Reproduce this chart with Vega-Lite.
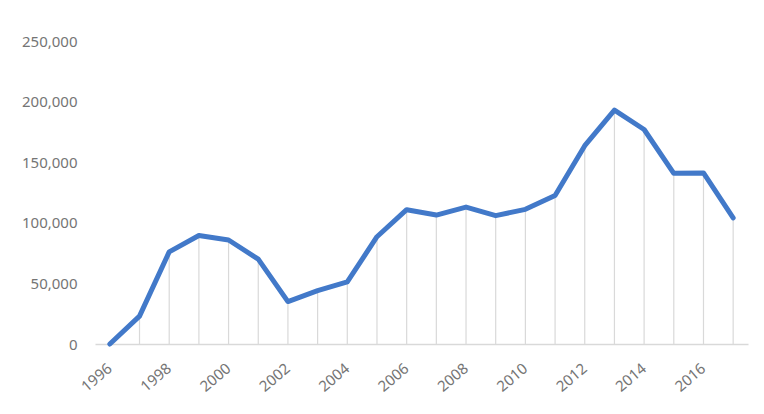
{
  "$schema": "https://vega.github.io/schema/vega-lite/v6.json",
  "autosize": "none",
  "padding": {"left": 95, "top": 41, "right": 16, "bottom": 70},
  "width": 653,
  "height": 303,
  "background": "white",
  "config": {"view": {"stroke": null}, "font": "Noto Sans"},
  "data": {"values": [
    {"year": 1996, "value": 0},
    {"year": 1997, "value": 23000},
    {"year": 1998, "value": 76000},
    {"year": 1999, "value": 89500},
    {"year": 2000, "value": 85800},
    {"year": 2001, "value": 70000},
    {"year": 2002, "value": 35000},
    {"year": 2003, "value": 44000},
    {"year": 2004, "value": 51200},
    {"year": 2005, "value": 88500},
    {"year": 2006, "value": 110800},
    {"year": 2007, "value": 106400},
    {"year": 2008, "value": 113000},
    {"year": 2009, "value": 105900},
    {"year": 2010, "value": 111100},
    {"year": 2011, "value": 122600},
    {"year": 2012, "value": 163600},
    {"year": 2013, "value": 193000},
    {"year": 2014, "value": 177000},
    {"year": 2015, "value": 140800},
    {"year": 2016, "value": 141100},
    {"year": 2017, "value": 104000}
  ]},
  "encoding": {
    "x": {
      "field": "year", "type": "ordinal",
      "scale": {"type": "band", "paddingInner": 0, "paddingOuter": 0},
      "axis": {
        "title": null, "ticks": false, "domainColor": "#d9d9d9", "domainWidth": 1.5,
        "values": [1996, 1998, 2000, 2002, 2004, 2006, 2008, 2010, 2012, 2014, 2016],
        "labelAngle": -40, "labelAlign": "right", "labelBaseline": "middle",
        "labelPadding": 22, "labelFontSize": 15, "labelColor": "#757575"
      }
    }
  },
  "layer": [
    {
      "mark": {"type": "rule", "color": "#d9d9d9", "strokeWidth": 1.2},
      "encoding": {
        "y": {"field": "value", "type": "quantitative"},
        "y2": {"datum": 0}
      }
    },
    {
      "mark": {"type": "line", "color": "#4279c9", "strokeWidth": 5, "strokeCap": "round", "strokeJoin": "round"},
      "encoding": {
        "y": {
          "field": "value", "type": "quantitative",
          "scale": {"domain": [0, 250000], "nice": false},
          "axis": {
            "title": null, "domain": false, "ticks": false, "grid": false,
            "values": [0, 50000, 100000, 150000, 200000, 250000],
            "format": ",d", "labelPadding": 18, "labelFontSize": 15, "labelColor": "#757575"
          }
        }
      }
    }
  ]
}
